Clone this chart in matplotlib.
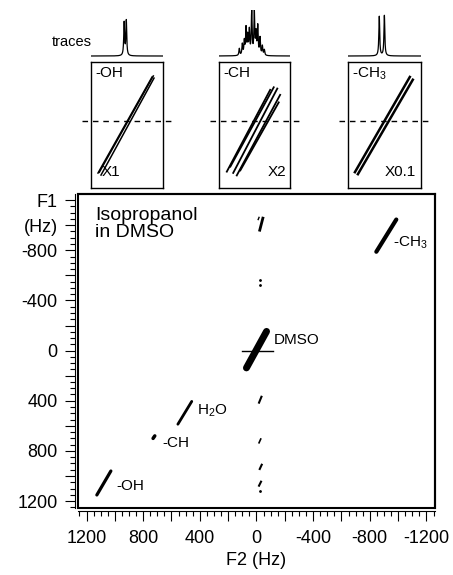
import numpy as np
import matplotlib.pyplot as plt
from matplotlib.ticker import MultipleLocator, FuncFormatter
from matplotlib.patches import Rectangle

plt.rcParams['font.family'] = ['Liberation Sans', 'DejaVu Sans']
plt.rcParams['mathtext.fontset'] = 'custom'
plt.rcParams['mathtext.rm'] = 'Liberation Sans'

# main 2D map: peak segments, start/end in Hz (F2, F1)
peak_names = ['-CH3', 'DMSO', 'H2O', '-CH', '-OH']
peak_f2_start = [-846, 71, 555, 730, 1127]
peak_f1_start = [-788, 138, 587, 700, 1151]
peak_f2_end = [-987, -71, 457, 718, 1028]
peak_f1_end = [-1045, -153, 405, 680, 960]
peak_lw = [3.0, 5.0, 2.0, 2.5, 2.3]

label_texts = ['-CH$_3$', 'DMSO', 'H$_2$O', '-CH', '-OH']
label_f2 = [-963, -124, 423, 666, 988]
label_f1 = [-857, -82, 482, 733, 1077]

# small artefacts near F2 = 0
art_f2_start = [-23, -12, -18, -18, -23, -18]
art_f1_start = [-960, -1045, 415, 735, 944, 1077]
art_f2_end = [-45, -18, -35, -30, -37, -32]
art_f1_end = [-1056, -1062, 368, 705, 910, 1045]
art_lw = [2.0, 1.0, 1.5, 1.2, 1.5, 1.5]
dot_f2 = [-28, -28, -28]
dot_f1 = [-560, -520, 1121]

# DMSO horizontal streak
streak_f2 = [103, -115]
streak_f1 = [0, 0]

# inset boxes (fraction of box), one list entry per line
inset_titles = ['-OH', '-CH', '-CH$_3$']
inset_scales = ['X1', 'X2', 'X0.1']
oh_x0 = [0.097, 0.139, 0.115]
oh_y0 = [0.119, 0.103, 0.125]
oh_x1 = [0.847, 0.875, 0.865]
oh_y1 = [0.881, 0.873, 0.890]
ch_x0 = [0.11, 0.16, 0.20, 0.25, 0.30]
ch_y0 = [0.13, 0.17, 0.12, 0.10, 0.14]
ch_x1 = [0.72, 0.77, 0.82, 0.86, 0.84]
ch_y1 = [0.78, 0.80, 0.79, 0.74, 0.68]
ch3_x0 = [0.096, 0.137]
ch3_y0 = [0.126, 0.110]
ch3_x1 = [0.849, 0.890]
ch3_y1 = [0.882, 0.860]

# traces: peak positions (fraction of width) and heights
oh_pos = [0.46, 0.49]
oh_h = [0.72, 0.76]
ch_pos = [0.286, 0.328, 0.356, 0.38, 0.404, 0.427, 0.46, 0.497, 0.521, 0.545, 0.577, 0.61, 0.638]
ch_h = [0.15, 0.24, 0.30, 0.58, 0.40, 0.52, 0.94, 0.91, 0.45, 0.62, 0.37, 0.20, 0.12]
ch3_pos = [0.43, 0.50]
ch3_h = [0.86, 0.88]

fig = plt.figure(figsize=(4.53, 5.75), dpi=100)

# ---- main spectrum
ax = fig.add_axes([0.1722, 0.1165, 0.788, 0.546])
for i in range(len(peak_names)):
    ax.plot([peak_f2_start[i], peak_f2_end[i]], [peak_f1_start[i], peak_f1_end[i]],
            color='black', lw=peak_lw[i], solid_capstyle='round')
    ax.text(label_f2[i], label_f1[i], label_texts[i], fontsize=11, va='center', ha='left')
ax.plot(streak_f2, streak_f1, color='black', lw=1)
for i in range(len(art_lw)):
    ax.plot([art_f2_start[i], art_f2_end[i]], [art_f1_start[i], art_f1_end[i]],
            color='black', lw=art_lw[i])
ax.plot(dot_f2, dot_f1, 'k.', ms=2)
ax.text(0.048, 0.96, 'Isopropanol\nin DMSO', transform=ax.transAxes, fontsize=14,
        va='top', ha='left', linespacing=1.0)

ax.set_xlim(1260, -1260)
ax.set_ylim(1255, -1248)
ax.xaxis.set_major_locator(MultipleLocator(200))
ax.xaxis.set_minor_locator(MultipleLocator(50))
ax.yaxis.set_major_locator(MultipleLocator(200))
ax.yaxis.set_minor_locator(MultipleLocator(50))


def xfmt(v, pos):
    v = int(round(v))
    return str(v) if v % 400 == 0 else ''


def yfmt(v, pos):
    v = int(round(v))
    if v == -1200:
        return 'F1'
    if v == -1000:
        return '(Hz)'
    return str(v) if v % 400 == 0 and abs(v) < 1000 or v == 1200 else ''


ax.xaxis.set_major_formatter(FuncFormatter(xfmt))
ax.yaxis.set_major_formatter(FuncFormatter(yfmt))
ax.tick_params(which='major', length=7, width=0.8, labelsize=13)
ax.tick_params(which='minor', length=3.5, width=0.8)
ax.tick_params(axis='x', pad=6)
ax.tick_params(axis='y', pad=5)
for s in ['left', 'bottom']:
    ax.spines[s].set_position(('outward', 2.5))
    ax.spines[s].set_linewidth(0.8)
for s in ['top', 'right']:
    ax.spines[s].set_linewidth(1.5)
ax.add_patch(Rectangle((0, 0), 1, 1, transform=ax.transAxes, fill=False,
                       lw=1.5, clip_on=False))
ax.set_xlabel('F2 (Hz)', fontsize=13, labelpad=4)

# ---- insets and traces
box_left = [0.2009, 0.4834, 0.768]
box_width = [0.159, 0.157, 0.161]
inset_lines = [(oh_x0, oh_y0, oh_x1, oh_y1, 1.1),
               (ch_x0, ch_y0, ch_x1, ch_y1, 1.3),
               (ch3_x0, ch3_y0, ch3_x1, ch3_y1, 1.8)]
scale_x = [0.15, 0.95, 0.93]
scale_ha = ['left', 'right', 'right']
trace_pos = [oh_pos, ch_pos, ch3_pos]
trace_h = [oh_h, ch_h, ch3_h]
xs = np.linspace(0, 1, 1200)

for k in range(3):
    bx = fig.add_axes([box_left[k], 0.673, box_width[k], 0.219])
    bx.set_xlim(0, 1)
    bx.set_ylim(0, 1)
    bx.set_xticks([])
    bx.set_yticks([])
    for s in bx.spines.values():
        s.set_linewidth(1.0)
    x0, y0, x1, y1, lw = inset_lines[k]
    for j in range(len(x0)):
        bx.plot([x0[j], x1[j]], [y0[j], y1[j]], color='black', lw=lw)
    bx.plot([-0.12, 1.12], [0.53, 0.53], color='black', lw=1,
            ls=(0, (4, 3.5)), clip_on=False)
    bx.text(0.06, 0.91, inset_titles[k], transform=bx.transAxes, fontsize=11,
            va='center', ha='left')
    bx.text(scale_x[k], 0.13, inset_scales[k], transform=bx.transAxes, fontsize=11,
            va='center', ha=scale_ha[k])

    tx = fig.add_axes([box_left[k], 0.899, box_width[k], 0.0835])
    spec = np.zeros_like(xs)
    for p, h in zip(trace_pos[k], trace_h[k]):
        g = 0.007
        spec += h * g ** 2 / ((xs - p) ** 2 + g ** 2)
    tx.plot(xs, spec, color='black', lw=0.9)
    tx.set_xlim(0, 1)
    tx.set_ylim(-0.045, 1.0)
    tx.axis('off')

fig.text(52 / 453, 1 - 42 / 575, 'traces', fontsize=10.5, va='center', ha='left')

fig.savefig('out.png', dpi=100)
